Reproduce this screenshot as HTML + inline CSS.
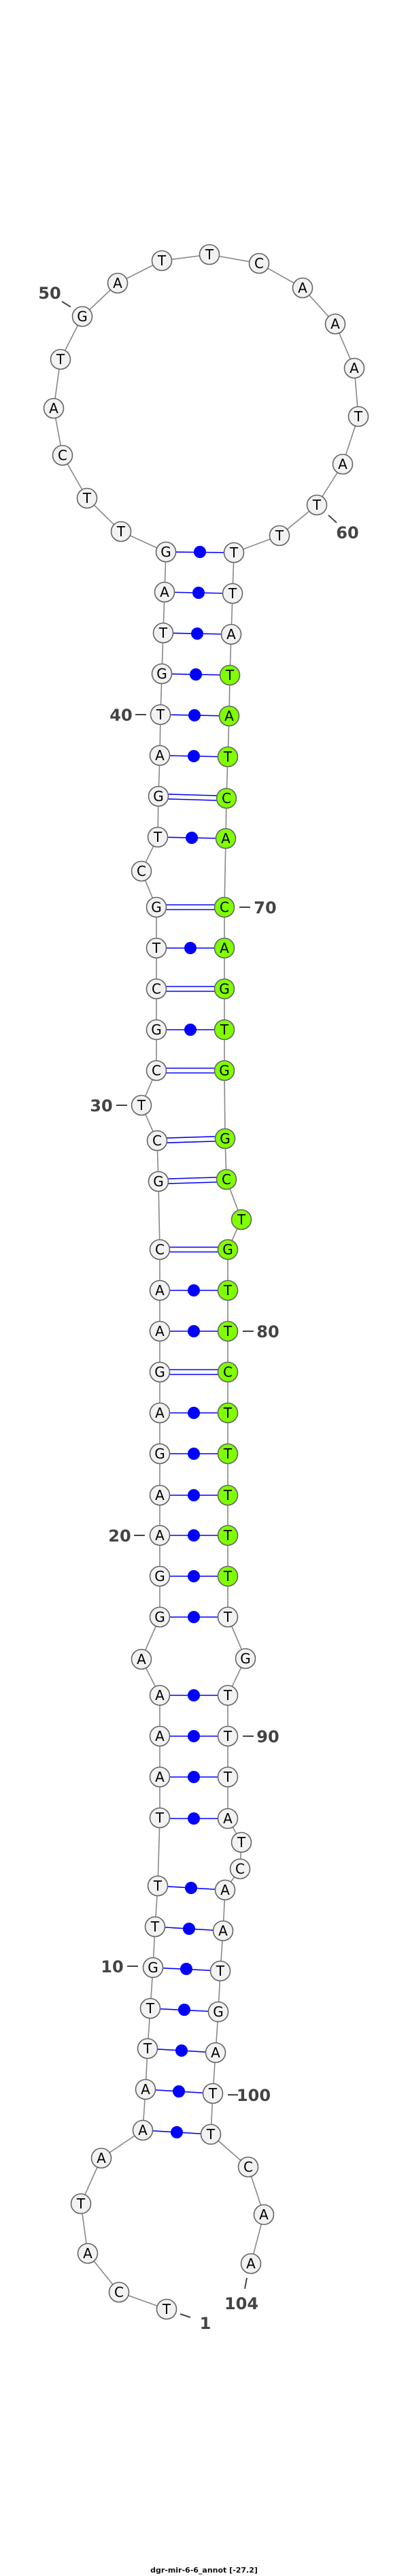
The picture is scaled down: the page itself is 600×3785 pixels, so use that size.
<!DOCTYPE html>
<html><head><meta charset="utf-8"><style>
html,body{margin:0;padding:0;background:#fff;}
svg{display:block;}
.n circle{fill:#f2f2f2;stroke:#666;stroke-width:1.6;}
.n circle.g{fill:#7fff00;}
.n text{font-family:"DejaVu Sans","Liberation Sans",sans-serif;font-size:20px;text-anchor:middle;fill:#000;}
.p line{stroke:#0000ff;stroke-width:1.6;}
.p circle{fill:#0000ff;}
.l text{font-family:"DejaVu Sans","Liberation Sans",sans-serif;font-size:24px;font-weight:bold;fill:#444;text-anchor:middle;}
.l line{stroke:#444;stroke-width:2;}
</style></head><body>
<svg width="600" height="3785" viewBox="0 0 600 3785" xmlns="http://www.w3.org/2000/svg">
<polyline fill="none" stroke="#888" stroke-width="1.6" points="245,3393 175,3368 129,3311 119,3238 149,3171 210,3130 214,3070 217,3010 221,2951 225,2891 228,2831 232,2771 235,2671 235,2611 235,2551 235,2491 208,2438 235,2376 235,2316 235,2256 235,2197 235,2136 235,2076 235,2016 235,1956 235,1896 235,1836 233,1736 231,1676 208,1624 230,1573 230,1513 230,1453 230,1393 230,1333 208,1280 232,1230 233,1170 235,1110 236,1050 238,990 240,930 242,870 244,811 178,781 128,732 92,669 79,600 89,528 121,465 173,416 238,383 308,374 381,387 445,423 493,476 521,541 527,612 504,682 466,742 411,787 344,812 342,872 340,932 338,992 337,1052 335,1112 333,1173 332,1232 330,1333 330,1393 330,1453 330,1513 330,1573 331,1673 333,1733 355,1792 335,1836 335,1896 335,1956 335,2016 335,2076 335,2136 335,2197 335,2256 335,2316 335,2376 361,2437 335,2491 335,2551 335,2611 335,2672 355,2707 353,2746 331,2777 328,2837 324,2896 321,2956 317,3016 313,3076 310,3136 365,3184 388,3254 369,3326"/>
<g class="p">
<line x1="210" y1="3130" x2="310" y2="3136"/><circle cx="260" cy="3133" r="9"/>
<line x1="214" y1="3070" x2="313" y2="3076"/><circle cx="263" cy="3073" r="9"/>
<line x1="217" y1="3010" x2="317" y2="3016"/><circle cx="267" cy="3013" r="9"/>
<line x1="221" y1="2951" x2="321" y2="2956"/><circle cx="271" cy="2953" r="9"/>
<line x1="225" y1="2891" x2="324" y2="2896"/><circle cx="274" cy="2893" r="9"/>
<line x1="228" y1="2831" x2="328" y2="2837"/><circle cx="278" cy="2834" r="9"/>
<line x1="232" y1="2771" x2="331" y2="2777"/><circle cx="281" cy="2774" r="9"/>
<line x1="235" y1="2672" x2="335" y2="2672"/><circle cx="285" cy="2672" r="9"/>
<line x1="235" y1="2611" x2="335" y2="2611"/><circle cx="285" cy="2611" r="9"/>
<line x1="235" y1="2551" x2="335" y2="2551"/><circle cx="285" cy="2551" r="9"/>
<line x1="235" y1="2491" x2="335" y2="2491"/><circle cx="285" cy="2491" r="9"/>
<line x1="235" y1="2376" x2="335" y2="2376"/><circle cx="285" cy="2376" r="9"/>
<line x1="235" y1="2316" x2="335" y2="2316"/><circle cx="285" cy="2316" r="9"/>
<line x1="235" y1="2256" x2="335" y2="2256"/><circle cx="285" cy="2256" r="9"/>
<line x1="235" y1="2197" x2="335" y2="2197"/><circle cx="285" cy="2197" r="9"/>
<line x1="235" y1="2136" x2="335" y2="2136"/><circle cx="285" cy="2136" r="9"/>
<line x1="235" y1="2076" x2="335" y2="2076"/><circle cx="285" cy="2076" r="9"/>
<line x1="235" y1="2012.5" x2="335" y2="2012.5"/><line x1="235" y1="2019.5" x2="335" y2="2019.5"/>
<line x1="235" y1="1956" x2="335" y2="1956"/><circle cx="285" cy="1956" r="9"/>
<line x1="235" y1="1896" x2="335" y2="1896"/><circle cx="285" cy="1896" r="9"/>
<line x1="235" y1="1832.5" x2="335" y2="1832.5"/><line x1="235" y1="1839.5" x2="335" y2="1839.5"/>
<line x1="233" y1="1732.5" x2="333" y2="1729.5"/><line x1="233" y1="1739.5" x2="333" y2="1736.5"/>
<line x1="231" y1="1672.5" x2="331" y2="1669.5"/><line x1="231" y1="1679.5" x2="331" y2="1676.5"/>
<line x1="230" y1="1569.5" x2="330" y2="1569.5"/><line x1="230" y1="1576.5" x2="330" y2="1576.5"/>
<line x1="230" y1="1513" x2="330" y2="1513"/><circle cx="280" cy="1513" r="9"/>
<line x1="230" y1="1449.5" x2="330" y2="1449.5"/><line x1="230" y1="1456.5" x2="330" y2="1456.5"/>
<line x1="230" y1="1393" x2="330" y2="1393"/><circle cx="280" cy="1393" r="9"/>
<line x1="230" y1="1329.5" x2="330" y2="1329.5"/><line x1="230" y1="1336.5" x2="330" y2="1336.5"/>
<line x1="232" y1="1230" x2="332" y2="1232"/><circle cx="282" cy="1231" r="9"/>
<line x1="233" y1="1166.5" x2="333" y2="1169.5"/><line x1="233" y1="1173.5" x2="333" y2="1176.5"/>
<line x1="235" y1="1110" x2="335" y2="1112"/><circle cx="285" cy="1111" r="9"/>
<line x1="236" y1="1050" x2="337" y2="1052"/><circle cx="286" cy="1051" r="9"/>
<line x1="238" y1="990" x2="338" y2="992"/><circle cx="288" cy="991" r="9"/>
<line x1="240" y1="930" x2="340" y2="932"/><circle cx="290" cy="931" r="9"/>
<line x1="242" y1="870" x2="342" y2="872"/><circle cx="292" cy="871" r="9"/>
<line x1="244" y1="811" x2="344" y2="812"/><circle cx="294" cy="811" r="9"/>
</g>
<g class="n">
<circle cx="245" cy="3393" r="14.5"/><text x="245" y="3400">T</text>
<circle cx="175" cy="3368" r="14.5"/><text x="175" y="3375">C</text>
<circle cx="129" cy="3311" r="14.5"/><text x="129" y="3318">A</text>
<circle cx="119" cy="3238" r="14.5"/><text x="119" y="3245">T</text>
<circle cx="149" cy="3171" r="14.5"/><text x="149" y="3178">A</text>
<circle cx="210" cy="3130" r="14.5"/><text x="210" y="3137">A</text>
<circle cx="214" cy="3070" r="14.5"/><text x="214" y="3077">A</text>
<circle cx="217" cy="3010" r="14.5"/><text x="217" y="3017">T</text>
<circle cx="221" cy="2951" r="14.5"/><text x="221" y="2958">T</text>
<circle cx="225" cy="2891" r="14.5"/><text x="225" y="2898">G</text>
<circle cx="228" cy="2831" r="14.5"/><text x="228" y="2838">T</text>
<circle cx="232" cy="2771" r="14.5"/><text x="232" y="2778">T</text>
<circle cx="235" cy="2671" r="14.5"/><text x="235" y="2678">T</text>
<circle cx="235" cy="2611" r="14.5"/><text x="235" y="2618">A</text>
<circle cx="235" cy="2551" r="14.5"/><text x="235" y="2558">A</text>
<circle cx="235" cy="2491" r="14.5"/><text x="235" y="2498">A</text>
<circle cx="208" cy="2438" r="14.5"/><text x="208" y="2445">A</text>
<circle cx="235" cy="2376" r="14.5"/><text x="235" y="2383">G</text>
<circle cx="235" cy="2316" r="14.5"/><text x="235" y="2323">G</text>
<circle cx="235" cy="2256" r="14.5"/><text x="235" y="2263">A</text>
<circle cx="235" cy="2197" r="14.5"/><text x="235" y="2204">A</text>
<circle cx="235" cy="2136" r="14.5"/><text x="235" y="2143">G</text>
<circle cx="235" cy="2076" r="14.5"/><text x="235" y="2083">A</text>
<circle cx="235" cy="2016" r="14.5"/><text x="235" y="2023">G</text>
<circle cx="235" cy="1956" r="14.5"/><text x="235" y="1963">A</text>
<circle cx="235" cy="1896" r="14.5"/><text x="235" y="1903">A</text>
<circle cx="235" cy="1836" r="14.5"/><text x="235" y="1843">C</text>
<circle cx="233" cy="1736" r="14.5"/><text x="233" y="1743">G</text>
<circle cx="231" cy="1676" r="14.5"/><text x="231" y="1683">C</text>
<circle cx="208" cy="1624" r="14.5"/><text x="208" y="1631">T</text>
<circle cx="230" cy="1573" r="14.5"/><text x="230" y="1580">C</text>
<circle cx="230" cy="1513" r="14.5"/><text x="230" y="1520">G</text>
<circle cx="230" cy="1453" r="14.5"/><text x="230" y="1460">C</text>
<circle cx="230" cy="1393" r="14.5"/><text x="230" y="1400">T</text>
<circle cx="230" cy="1333" r="14.5"/><text x="230" y="1340">G</text>
<circle cx="208" cy="1280" r="14.5"/><text x="208" y="1287">C</text>
<circle cx="232" cy="1230" r="14.5"/><text x="232" y="1237">T</text>
<circle cx="233" cy="1170" r="14.5"/><text x="233" y="1177">G</text>
<circle cx="235" cy="1110" r="14.5"/><text x="235" y="1117">A</text>
<circle cx="236" cy="1050" r="14.5"/><text x="236" y="1057">T</text>
<circle cx="238" cy="990" r="14.5"/><text x="238" y="997">G</text>
<circle cx="240" cy="930" r="14.5"/><text x="240" y="937">T</text>
<circle cx="242" cy="870" r="14.5"/><text x="242" y="877">A</text>
<circle cx="244" cy="811" r="14.5"/><text x="244" y="818">G</text>
<circle cx="178" cy="781" r="14.5"/><text x="178" y="788">T</text>
<circle cx="128" cy="732" r="14.5"/><text x="128" y="739">T</text>
<circle cx="92" cy="669" r="14.5"/><text x="92" y="676">C</text>
<circle cx="79" cy="600" r="14.5"/><text x="79" y="607">A</text>
<circle cx="89" cy="528" r="14.5"/><text x="89" y="535">T</text>
<circle cx="121" cy="465" r="14.5"/><text x="121" y="472">G</text>
<circle cx="173" cy="416" r="14.5"/><text x="173" y="423">A</text>
<circle cx="238" cy="383" r="14.5"/><text x="238" y="390">T</text>
<circle cx="308" cy="374" r="14.5"/><text x="308" y="381">T</text>
<circle cx="381" cy="387" r="14.5"/><text x="381" y="394">C</text>
<circle cx="445" cy="423" r="14.5"/><text x="445" y="430">A</text>
<circle cx="493" cy="476" r="14.5"/><text x="493" y="483">A</text>
<circle cx="521" cy="541" r="14.5"/><text x="521" y="548">A</text>
<circle cx="527" cy="612" r="14.5"/><text x="527" y="619">T</text>
<circle cx="504" cy="682" r="14.5"/><text x="504" y="689">A</text>
<circle cx="466" cy="742" r="14.5"/><text x="466" y="749">T</text>
<circle cx="411" cy="787" r="14.5"/><text x="411" y="794">T</text>
<circle cx="344" cy="812" r="14.5"/><text x="344" y="819">T</text>
<circle cx="342" cy="872" r="14.5"/><text x="342" y="879">T</text>
<circle cx="340" cy="932" r="14.5"/><text x="340" y="939">A</text>
<circle class="g" cx="338" cy="992" r="14.5"/><text x="338" y="999">T</text>
<circle class="g" cx="337" cy="1052" r="14.5"/><text x="337" y="1059">A</text>
<circle class="g" cx="335" cy="1112" r="14.5"/><text x="335" y="1119">T</text>
<circle class="g" cx="333" cy="1173" r="14.5"/><text x="333" y="1180">C</text>
<circle class="g" cx="332" cy="1232" r="14.5"/><text x="332" y="1239">A</text>
<circle class="g" cx="330" cy="1333" r="14.5"/><text x="330" y="1340">C</text>
<circle class="g" cx="330" cy="1393" r="14.5"/><text x="330" y="1400">A</text>
<circle class="g" cx="330" cy="1453" r="14.5"/><text x="330" y="1460">G</text>
<circle class="g" cx="330" cy="1513" r="14.5"/><text x="330" y="1520">T</text>
<circle class="g" cx="330" cy="1573" r="14.5"/><text x="330" y="1580">G</text>
<circle class="g" cx="331" cy="1673" r="14.5"/><text x="331" y="1680">G</text>
<circle class="g" cx="333" cy="1733" r="14.5"/><text x="333" y="1740">C</text>
<circle class="g" cx="355" cy="1792" r="14.5"/><text x="355" y="1799">T</text>
<circle class="g" cx="335" cy="1836" r="14.5"/><text x="335" y="1843">G</text>
<circle class="g" cx="335" cy="1896" r="14.5"/><text x="335" y="1903">T</text>
<circle class="g" cx="335" cy="1956" r="14.5"/><text x="335" y="1963">T</text>
<circle class="g" cx="335" cy="2016" r="14.5"/><text x="335" y="2023">C</text>
<circle class="g" cx="335" cy="2076" r="14.5"/><text x="335" y="2083">T</text>
<circle class="g" cx="335" cy="2136" r="14.5"/><text x="335" y="2143">T</text>
<circle class="g" cx="335" cy="2197" r="14.5"/><text x="335" y="2204">T</text>
<circle class="g" cx="335" cy="2256" r="14.5"/><text x="335" y="2263">T</text>
<circle class="g" cx="335" cy="2316" r="14.5"/><text x="335" y="2323">T</text>
<circle cx="335" cy="2376" r="14.5"/><text x="335" y="2383">T</text>
<circle cx="361" cy="2437" r="14.5"/><text x="361" y="2444">G</text>
<circle cx="335" cy="2491" r="14.5"/><text x="335" y="2498">T</text>
<circle cx="335" cy="2551" r="14.5"/><text x="335" y="2558">T</text>
<circle cx="335" cy="2611" r="14.5"/><text x="335" y="2618">T</text>
<circle cx="335" cy="2672" r="14.5"/><text x="335" y="2679">A</text>
<circle cx="355" cy="2707" r="14.5"/><text x="355" y="2714">T</text>
<circle cx="353" cy="2746" r="14.5"/><text x="353" y="2753">C</text>
<circle cx="331" cy="2777" r="14.5"/><text x="331" y="2784">A</text>
<circle cx="328" cy="2837" r="14.5"/><text x="328" y="2844">A</text>
<circle cx="324" cy="2896" r="14.5"/><text x="324" y="2903">T</text>
<circle cx="321" cy="2956" r="14.5"/><text x="321" y="2963">G</text>
<circle cx="317" cy="3016" r="14.5"/><text x="317" y="3023">A</text>
<circle cx="313" cy="3076" r="14.5"/><text x="313" y="3083">T</text>
<circle cx="310" cy="3136" r="14.5"/><text x="310" y="3143">T</text>
<circle cx="365" cy="3184" r="14.5"/><text x="365" y="3191">C</text>
<circle cx="388" cy="3254" r="14.5"/><text x="388" y="3261">A</text>
<circle cx="369" cy="3326" r="14.5"/><text x="369" y="3333">A</text>
</g>
<g class="l">
<line x1="91" y1="443" x2="104" y2="451"/><text x="73" y="439">50</text>
<line x1="483" y1="757" x2="495" y2="768"/><text x="511" y="791">60</text>
<line x1="199" y1="1050" x2="215" y2="1050"/><text x="178" y="1059">40</text>
<line x1="352" y1="1333" x2="368" y2="1333"/><text x="390" y="1342">70</text>
<line x1="171" y1="1624" x2="187" y2="1624"/><text x="149" y="1633">30</text>
<line x1="357" y1="1956" x2="373" y2="1956"/><text x="394" y="1965">80</text>
<line x1="197" y1="2256" x2="213" y2="2256"/><text x="176" y="2265">20</text>
<line x1="357" y1="2551" x2="373" y2="2551"/><text x="394" y="2560">90</text>
<line x1="187" y1="2889" x2="203" y2="2889"/><text x="165" y="2898">10</text>
<line x1="335" y1="3078" x2="350" y2="3078"/><text x="373" y="3087">100</text>
<line x1="265" y1="3400" x2="280" y2="3405"/><text x="302" y="3422">1</text>
<line x1="363" y1="3347" x2="360" y2="3363"/><text x="355" y="3393">104</text>
</g>
<text x="300" y="3780" font-family="DejaVu Sans, Liberation Sans, sans-serif" font-size="11" font-weight="bold" text-anchor="middle" fill="#111">dgr-mir-6-6_annot [-27.2]</text>
</svg>
</body></html>
